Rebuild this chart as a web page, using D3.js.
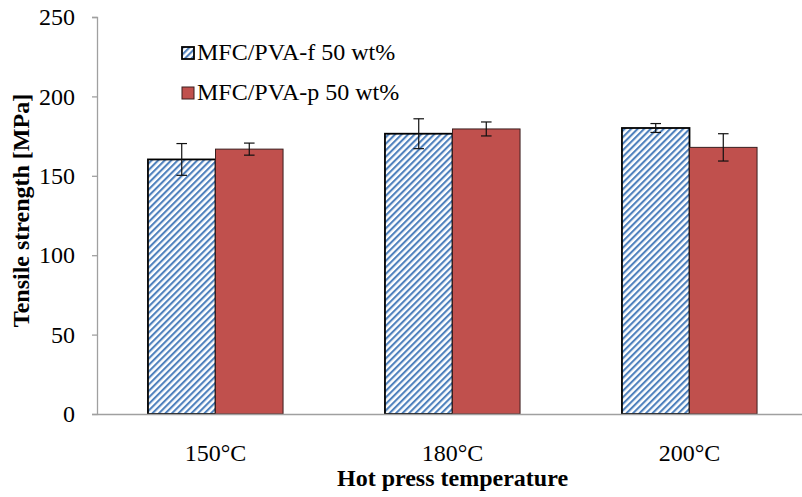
<!DOCTYPE html>
<html>
<head>
<meta charset="utf-8">
<script src="https://cdn.jsdelivr.net/npm/d3@7/dist/d3.min.js"></script>
<style>
  html, body { margin: 0; padding: 0; background: #fff; }
  svg { display: block; }
  text { font-family: "Liberation Serif", "Times New Roman", serif; fill: #000; }
</style>
</head>
<body>
<svg id="chart" width="802" height="497"></svg>
<script>
// Hot press temperature groups
const categories = ["150°C", "180°C", "200°C"];
const seriesNames = ["MFC/PVA-f 50 wt%", "MFC/PVA-p 50 wt%"];
// Mean tensile strength [MPa]
const fValues = [160.3, 176.5, 180.1];
const pValues = [166.8, 179.5, 167.9];
// Standard deviations [MPa]
const fErrors = [10.0, 9.4, 2.8];
const pErrors = [3.8, 4.4, 8.6];
const yTicks = [0, 50, 100, 150, 200, 250];

const svg = d3.select("#chart");
const margin = { left: 97, right: -6, top: 17, bottom: 83 };
const W = 802, H = 497;
const x0 = 97, x1 = 808, yTop = 17, yBottom = 414;

const x = d3.scaleBand().domain(categories).range([x0, x1])
  .paddingInner(0.43).paddingOuter(0.215);
const xs = d3.scaleBand().domain([0, 1]).range([0, x.bandwidth()]);
const y = d3.scaleLinear().domain([0, 250]).range([yBottom, yTop]);

// diagonal hatch fill for the f series
const defs = svg.append("defs");
const pat = defs.append("pattern")
  .attr("id", "hatch")
  .attr("patternUnits", "userSpaceOnUse")
  .attr("width", 4.6).attr("height", 10)
  .attr("patternTransform", "rotate(45)");
pat.append("rect").attr("width", 4.6).attr("height", 10).attr("fill", "#fff");
pat.append("rect").attr("width", 2.1).attr("height", 10).attr("fill", "#4f81bd");

const fills = ["url(#hatch)", "#c0504d"];
const strokes = ["#000", "#3a1f1f"];
const strokeW = [1.8, 1];

const rows = categories.map((c, i) => ({
  cat: c,
  bars: [
    { s: 0, v: fValues[i], e: fErrors[i] },
    { s: 1, v: pValues[i], e: pErrors[i] }
  ]
}));

// Y axis
const yAxis = d3.axisLeft(y).tickValues(yTicks).tickSize(5).tickPadding(17);
const gy = svg.append("g").attr("transform", `translate(${x0},0)`).call(yAxis);
gy.select(".domain").attr("stroke", "#a0a0a0").attr("stroke-width", 1.3);
gy.selectAll(".tick line").attr("stroke", "#a0a0a0").attr("stroke-width", 1.3);
gy.selectAll(".tick text").attr("font-size", 24)
  .attr("font-family", "Liberation Serif, Times New Roman, serif").attr("fill", "#000");

// Bars
const groups = svg.append("g").selectAll("g").data(rows).join("g")
  .attr("transform", d => `translate(${x(d.cat)},0)`);
groups.selectAll("rect").data(d => d.bars).join("rect")
  .attr("x", d => xs(d.s))
  .attr("y", d => y(d.v))
  .attr("width", xs.bandwidth())
  .attr("height", d => y(0) - y(d.v))
  .attr("fill", d => fills[d.s])
  .attr("stroke", d => strokes[d.s])
  .attr("stroke-width", d => strokeW[d.s]);

// Error bars
const cap = 5.3;
const eb = groups.selectAll("g.err").data(d => d.bars).join("g").attr("class", "err")
  .attr("stroke", "#111").attr("stroke-width", 1.2);
eb.append("line")
  .attr("x1", d => xs(d.s) + xs.bandwidth() / 2).attr("x2", d => xs(d.s) + xs.bandwidth() / 2)
  .attr("y1", d => y(d.v + d.e)).attr("y2", d => y(d.v - d.e));
eb.append("line")
  .attr("x1", d => xs(d.s) + xs.bandwidth() / 2 - cap).attr("x2", d => xs(d.s) + xs.bandwidth() / 2 + cap)
  .attr("y1", d => y(d.v + d.e)).attr("y2", d => y(d.v + d.e));
eb.append("line")
  .attr("x1", d => xs(d.s) + xs.bandwidth() / 2 - cap).attr("x2", d => xs(d.s) + xs.bandwidth() / 2 + cap)
  .attr("y1", d => y(d.v - d.e)).attr("y2", d => y(d.v - d.e));

// X axis
const xAxis = d3.axisBottom(x).tickSize(0).tickPadding(30);
const gx = svg.append("g").attr("transform", `translate(0,${yBottom})`).call(xAxis);
gx.select(".domain").attr("stroke", "#a0a0a0").attr("stroke-width", 1.3);
gx.selectAll(".tick text").attr("font-size", 24)
  .attr("font-family", "Liberation Serif, Times New Roman, serif").attr("fill", "#000");

// Axis titles
svg.append("text")
  .attr("x", (x0 + x1) / 2).attr("y", 486)
  .attr("text-anchor", "middle").attr("font-size", 24).attr("font-weight", "bold")
  .text("Hot press temperature");
svg.append("text")
  .attr("transform", `translate(29,${(92 + 329) / 2}) rotate(-90)`)
  .attr("text-anchor", "middle").attr("font-size", 24).attr("font-weight", "bold")
  .text("Tensile strength [MPa]");

// Legend
const legend = svg.append("g").selectAll("g").data(seriesNames).join("g")
  .attr("transform", (d, i) => `translate(182,${60 + i * 40})`);
legend.append("rect")
  .attr("x", 0).attr("y", -13).attr("width", 12).attr("height", 12)
  .attr("fill", (d, i) => fills[i])
  .attr("stroke", (d, i) => strokes[i])
  .attr("stroke-width", (d, i) => i === 0 ? 1.8 : 1);
legend.append("text")
  .attr("x", 15).attr("y", 0)
  .attr("font-size", 24)
  .text(d => d);
</script>
</body>
</html>
